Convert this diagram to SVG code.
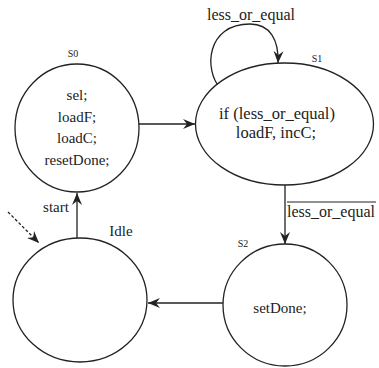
<svg xmlns="http://www.w3.org/2000/svg" width="379" height="368" viewBox="0 0 379 368">
<style>
.st{fill:#fff;stroke:#222;stroke-width:1.3}
.t{font-family:'Liberation Serif','Times New Roman','DejaVu Serif',serif;font-size:15px;fill:#222;text-anchor:middle}
.l{font-size:16px}
.b{font-size:16.5px}
.s{font-family:'Liberation Serif','Times New Roman','DejaVu Serif',serif;font-size:10px;fill:#222;text-anchor:middle}
.c{fill:none;stroke:#222;stroke-width:1.3}
</style>
<defs>
<marker id="ah" markerWidth="14" markerHeight="12" viewBox="-12 -6 14 12" refX="0" refY="0" orient="auto" markerUnits="userSpaceOnUse">
<path d="M0,0 L-12,-5 L-8,0 L-12,5 Z" fill="#222"/>
</marker>
</defs>
<g id="connectors">
<line class="c" x1="139" y1="124" x2="195" y2="124" marker-end="url(#ah)"/>
<path class="c" d="M220,88 C204,70 206,24 250,24 C270,24 279,40 278,63" marker-end="url(#ah)"/>
<line class="c" x1="285" y1="185" x2="285" y2="244" marker-end="url(#ah)"/>
<line class="c" x1="223" y1="303" x2="148" y2="303" marker-end="url(#ah)"/>
<line class="c" x1="77" y1="238" x2="77" y2="193" marker-end="url(#ah)"/>
<line class="c" x1="8" y1="212" x2="39" y2="243" stroke-dasharray="3,2" marker-end="url(#ah)"/>
<text class="t l" x="251" y="20">less_or_equal</text>
<line x1="287" y1="202" x2="376" y2="202" stroke="#222" stroke-width="1"/>
<text class="t l" x="331" y="217">less_or_equal</text>
<text class="t" x="56" y="212">start</text>
</g>
<g id="S0">
<ellipse class="st" cx="77" cy="128" rx="62" ry="64"/>
<text class="s" x="73" y="57">S0</text>
<text class="t" x="77" y="100">sel;</text>
<text class="t" x="77" y="122">loadF;</text>
<text class="t" x="77" y="143">loadC;</text>
<text class="t" x="77" y="165">resetDone;</text>
</g>
<g id="S1">
<ellipse class="st" cx="284.5" cy="124" rx="89" ry="61"/>
<text class="s" x="317" y="62">S1</text>
<text class="t b" x="277" y="119">if (less_or_equal)</text>
<text class="t b" x="276" y="138">loadF, incC;</text>
</g>
<g id="S2">
<ellipse class="st" cx="285" cy="305" rx="62" ry="61"/>
<text class="s" x="243" y="247">S2</text>
<text class="t" x="280" y="313">setDone;</text>
</g>
<g id="Idle">
<ellipse class="st" cx="80" cy="300" rx="67" ry="62"/>
<text class="t" x="121" y="236">Idle</text>
</g>
</svg>
